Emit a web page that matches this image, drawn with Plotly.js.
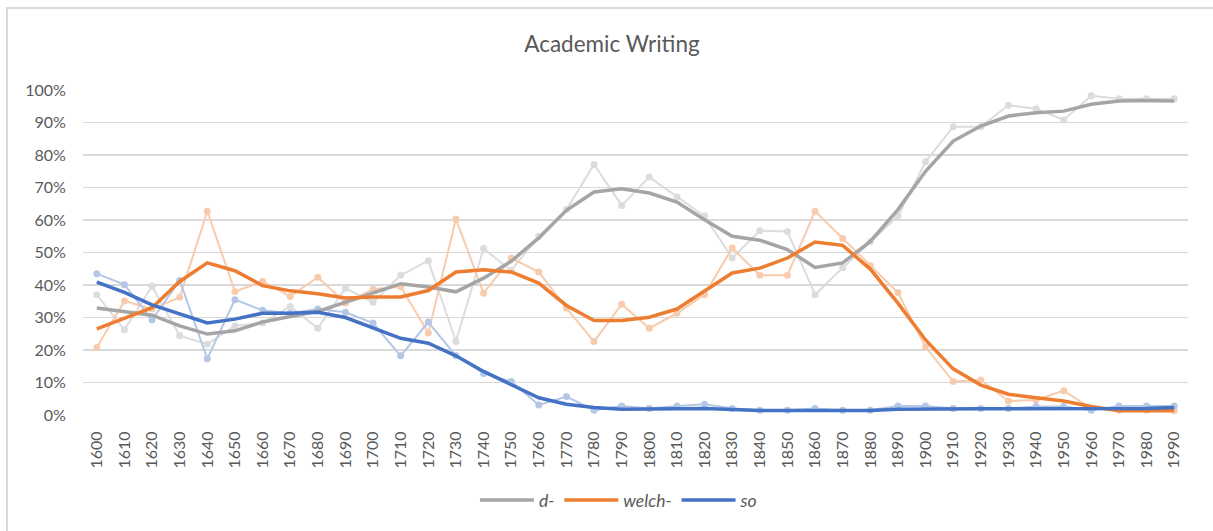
<!DOCTYPE html>
<html>
<head>
<meta charset="utf-8">
<script src="https://cdn.plot.ly/plotly-3.0.1.min.js"></script>
<style>
  html, body { margin: 0; padding: 0; background: #fff; }
  #wrap { position: relative; width: 1213px; height: 531px; overflow: hidden; }
  #frame { position: absolute; left: 6px; top: 7px; width: 1220px; height: 540px; border-left: 2px solid #d9d9d9; border-top: 2px solid #d9d9d9; box-sizing: border-box; pointer-events: none; }
  #chart { position: absolute; left: 0; top: 0; width: 1213px; height: 531px; }
</style>
</head>
<body>
<div id="wrap">
  <div id="chart"></div>
  <div id="frame"></div>
</div>
<script>
const years = ["1600","1610","1620","1630","1640","1650","1660","1670","1680","1690",
               "1700","1710","1720","1730","1740","1750","1760","1770","1780","1790",
               "1800","1810","1820","1830","1840","1850","1860","1870","1880","1890",
               "1900","1910","1920","1930","1940","1950","1960","1970","1980","1990"];

const dRaw = [37,26.2,39.6,24.4,21.8,27.5,28.3,33.4,26.7,39,
              34.7,43,47.5,22.6,51.2,44.5,55,63.2,77.1,64.5,
              73.2,67.1,61.2,48.3,56.7,56.5,37,45.3,53.3,61.2,
              77.9,88.7,88.7,95.3,94.2,90.8,98.2,97.3,97.3,97.3];
const dSmooth = [32.9,31.9,30.7,27.4,24.9,25.9,28.6,30.3,31.9,34.7,
                 37.5,40.4,39.4,37.9,42.1,47.3,54.5,63,68.6,69.6,
                 68.3,65.5,60.1,55,53.8,50.9,45.4,46.8,53.4,63.2,
                 75,84.3,88.9,92,93,93.5,95.6,96.6,96.8,96.6];

const welchRaw = [20.8,35.1,32.6,36.2,62.7,38,41.1,36.5,42.4,34.5,
                  38.7,39.5,25.2,60.3,37.5,48.3,44,32.9,22.6,34.1,
                  26.7,31.3,37,51.4,43,43,62.7,54.3,45.9,37.7,
                  20.9,10.3,10.8,4.3,4.6,7.5,2,1.5,1.5,1.3];
const welchSmooth = [26.5,29.8,33,41.1,46.8,44.4,39.8,38.2,37.3,36,
                     36.3,36.3,38.3,44,44.7,44,40.6,33.7,29.1,29.1,
                     30.1,32.6,38,43.7,45.2,48.3,53.2,52.2,44.9,34.4,
                     23.1,14.2,9.2,6.4,5.3,4.3,2.6,1.3,1.3,1.3];

const soRaw = [43.5,40.1,29.3,41.4,17.3,35.5,32.2,31.3,32.6,31.6,
               28.3,18.2,28.6,18.2,12.8,10.3,3.1,5.7,1.5,2.8,
               2,2.8,3.3,2,1.5,1.5,2,1.5,1.5,2.8,
               2.8,2,2,2,2.6,2.6,1.5,2.8,2.8,2.8];
const soSmooth = [40.9,37.7,33.9,31,28.3,29.5,31.3,31.3,31.6,30,
                  26.9,23.6,22.1,18.2,13.4,9.2,5.3,3.3,2.3,1.8,
                  1.8,2,2,1.7,1.4,1.4,1.4,1.4,1.4,1.8,
                  1.9,1.9,1.9,1.9,1.9,1.9,1.9,1.9,2,2.3];

const seriesNames = ["d-", "welch-", "so"];
const dark = ["#a5a5a5", "#ed7d31", "#4472c4"];
const light = ["#dcdcdc", "#f8cbad", "#b4c7e7"];
const raws = [dRaw, welchRaw, soRaw];
const smooths = [dSmooth, welchSmooth, soSmooth];

const traces = [];
raws.forEach((r, i) => {
  traces.push({
    x: years, y: r, type: "scatter", mode: "lines+markers",
    name: seriesNames[i] + " (raw)", showlegend: false, hoverinfo: "skip",
    line: { color: light[i], width: 2 },
    marker: { color: light[i], size: 7 }
  });
});
smooths.forEach((s, i) => {
  traces.push({
    x: years, y: s, type: "scatter", mode: "lines",
    name: seriesNames[i],
    line: { color: dark[i], width: 3.5 }
  });
});

const tickFont = { family: "Lato, 'Open Sans', sans-serif", size: 16, color: "#595959" };

const layout = {
  width: 1213, height: 531,
  margin: { l: 83, r: 25, t: 90, b: 116 },
  paper_bgcolor: "rgba(0,0,0,0)",
  plot_bgcolor: "#ffffff",
  title: {
    text: "Academic Writing",
    font: { family: "Lato, 'Open Sans', sans-serif", size: 22.5, color: "#595959" },
    x: 0.5045, xref: "container", xanchor: "center",
    y: 1 - 44/531, yref: "container", yanchor: "middle"
  },
  xaxis: {
    type: "category",
    categoryorder: "array", categoryarray: years,
    range: [-0.5, 39.5],
    tickangle: -90,
    tickfont: tickFont,
    showgrid: false, zeroline: false, showline: false,
    ticks: "outside", ticklen: 9, tickcolor: "rgba(0,0,0,0)",
    fixedrange: true
  },
  yaxis: {
    range: [0, 100],
    dtick: 10, tick0: 0,
    ticksuffix: "%",
    tickfont: tickFont,
    gridcolor: "#d9d9d9", gridwidth: 1.5,
    zeroline: false, showline: false,
    ticks: "outside", ticklen: 13, tickcolor: "rgba(0,0,0,0)",
    fixedrange: true
  },
  showlegend: true,
  legend: {
    orientation: "h",
    x: 0.485, xanchor: "center",
    y: -0.262, yanchor: "middle",
    font: { family: "Lato, 'Open Sans', sans-serif", size: 17.5, color: "#595959", style: "italic" },
    itemwidth: 54,
    bgcolor: "rgba(0,0,0,0)"
  },
  hovermode: false
};

Plotly.newPlot("chart", traces, layout, { displayModeBar: false, staticPlot: true });
</script>
</body>
</html>
